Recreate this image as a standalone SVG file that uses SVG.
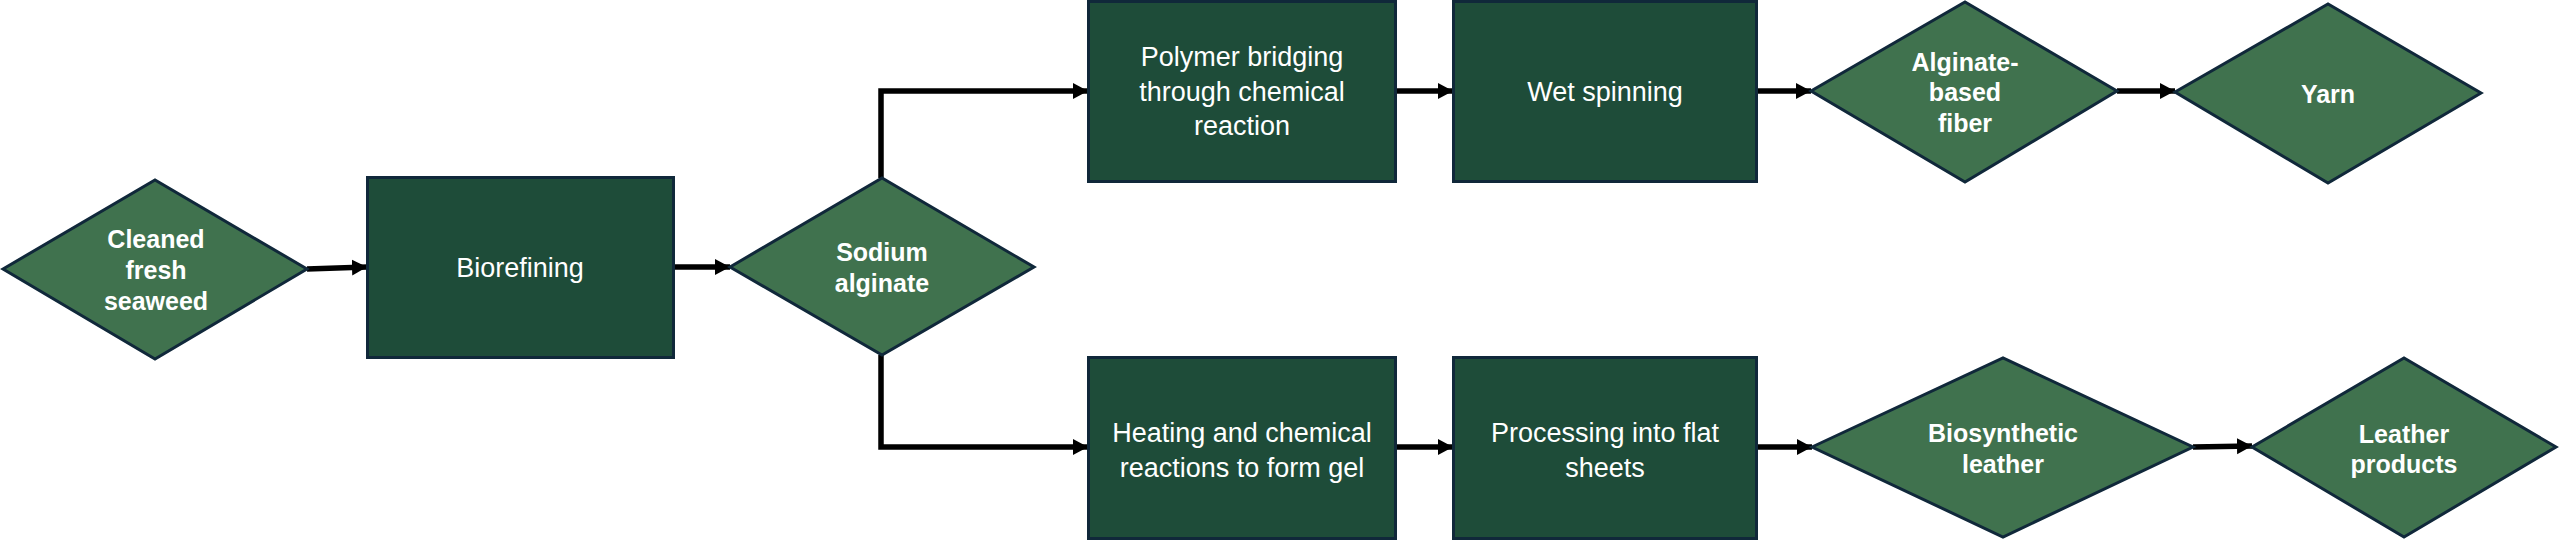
<svg xmlns="http://www.w3.org/2000/svg" width="2560" height="540" viewBox="0 0 2560 540">
<defs>
<style>
.box{fill:#1E4C39;stroke:#10283A;stroke-width:3}
.dia{fill:#40724E;stroke:#10283A;stroke-width:3}
.bt{font-family:"Liberation Sans",Arial,sans-serif;font-size:27px;fill:#ffffff;text-anchor:middle;dominant-baseline:central}
.dt{font-family:"Liberation Sans",Arial,sans-serif;font-size:25px;font-weight:bold;fill:#ffffff;text-anchor:middle;dominant-baseline:central}
.con{fill:none;stroke:#000000;stroke-width:5.5;marker-end:url(#ah)}
</style>
<marker id="ah" markerUnits="userSpaceOnUse" markerWidth="16" markerHeight="17" refX="15" refY="8" orient="auto">
<path d="M0,0 L15,8 L0,16 z" fill="#000000"/>
</marker>
</defs>
<rect width="2560" height="540" fill="#ffffff"/>
<g id="connectors">
<path class="con" d="M307,269 L367,267"/>
<path class="con" d="M674,267 L730,267"/>
<path class="con" d="M881,178 L881,91 L1088,91"/>
<path class="con" d="M881,355 L881,447 L1088,447"/>
<path class="con" d="M1396,91 L1453,91"/>
<path class="con" d="M1757,91 L1811,91"/>
<path class="con" d="M2117,91 L2175,91"/>
<path class="con" d="M1396,447 L1453,447"/>
<path class="con" d="M1757,447 L1812,447"/>
<path class="con" d="M2193,447 L2252,446"/>
</g>
<g id="cleaned-seaweed">
<polygon class="dia" points="3,269 155,180 307,269 155,359"/>
<text class="dt" x="156" y="239">Cleaned</text>
<text class="dt" x="156" y="270">fresh</text>
<text class="dt" x="156" y="301">seaweed</text>
</g>
<g id="biorefining">
<rect class="box" x="367.5" y="177.5" width="306" height="180"/>
<text class="bt" x="520" y="268">Biorefining</text>
</g>
<g id="sodium-alginate">
<polygon class="dia" points="730,267 882,178 1034,267 882,355"/>
<text class="dt" x="882" y="252">Sodium</text>
<text class="dt" x="882" y="283">alginate</text>
</g>
<g id="polymer-bridging">
<rect class="box" x="1088.5" y="1.5" width="307" height="180"/>
<text class="bt" x="1242" y="57">Polymer bridging</text>
<text class="bt" x="1242" y="92">through chemical</text>
<text class="bt" x="1242" y="126">reaction</text>
</g>
<g id="wet-spinning">
<rect class="box" x="1453.5" y="1.5" width="303" height="180"/>
<text class="bt" x="1605" y="92">Wet spinning</text>
</g>
<g id="alginate-fiber">
<polygon class="dia" points="1811,91 1965,2 2117,91 1965,182"/>
<text class="dt" x="1965" y="62">Alginate-</text>
<text class="dt" x="1965" y="92">based</text>
<text class="dt" x="1965" y="123">fiber</text>
</g>
<g id="yarn">
<polygon class="dia" points="2175,92 2328,4 2481,93 2328,183"/>
<text class="dt" x="2328" y="94">Yarn</text>
</g>
<g id="heating-gel">
<rect class="box" x="1088.5" y="357.5" width="307" height="181"/>
<text class="bt" x="1242" y="433">Heating and chemical</text>
<text class="bt" x="1242" y="468">reactions to form gel</text>
</g>
<g id="flat-sheets">
<rect class="box" x="1453.5" y="357.5" width="303" height="181"/>
<text class="bt" x="1605" y="433">Processing into flat</text>
<text class="bt" x="1605" y="468">sheets</text>
</g>
<g id="biosynthetic-leather">
<polygon class="dia" points="1812,447 2003,358 2193,447 2003,537"/>
<text class="dt" x="2003" y="433">Biosynthetic</text>
<text class="dt" x="2003" y="464">leather</text>
</g>
<g id="leather-products">
<polygon class="dia" points="2252,447 2404,358 2556,447 2404,537"/>
<text class="dt" x="2404" y="434">Leather</text>
<text class="dt" x="2404" y="464">products</text>
</g>
</svg>
